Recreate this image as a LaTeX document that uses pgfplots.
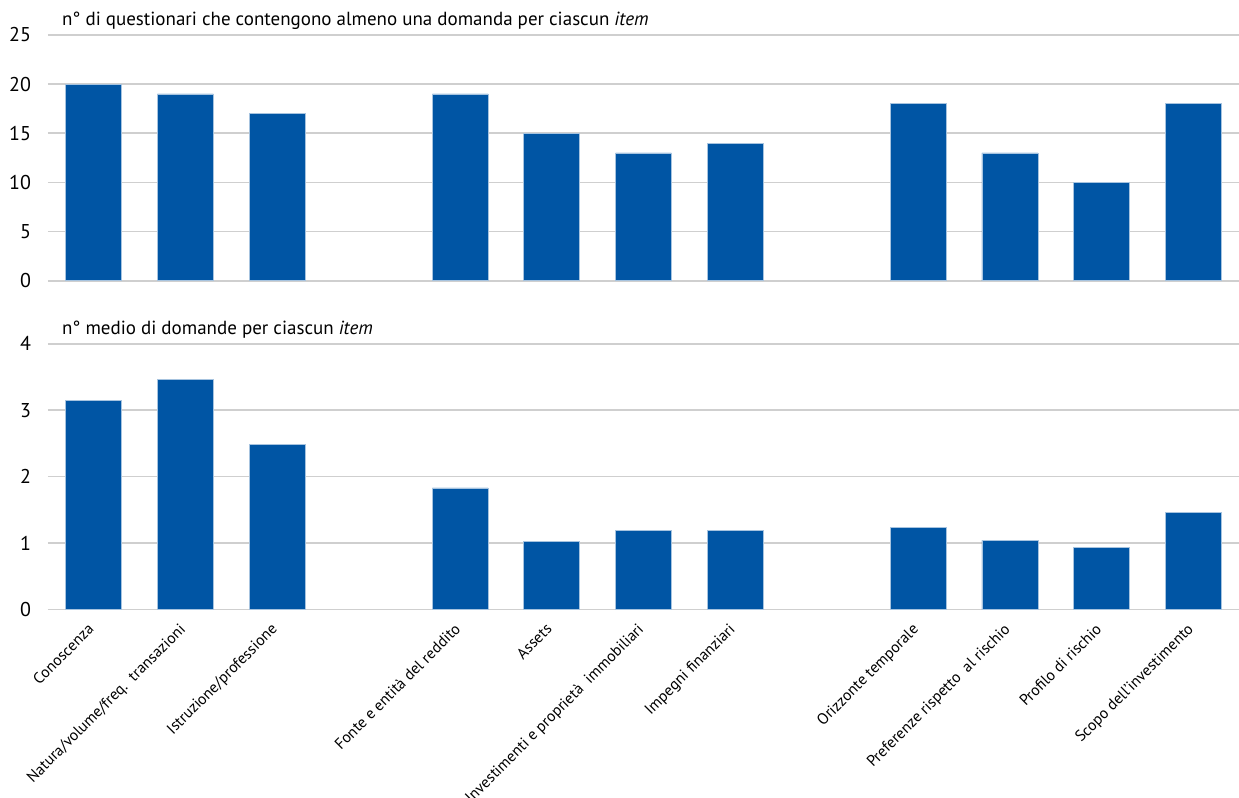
\documentclass[border=0pt]{standalone}
\usepackage{fontspec}
\setmainfont{PT Sans}
\usepackage{pgfplots}
\pgfplotsset{compat=1.18}
\definecolor{barblue}{HTML}{0055A4}
\definecolor{gridgray}{HTML}{CFCFCF}
\pgfplotsset{
  mybars/.style={
    scale only axis,
    width=596pt,
    xmin=-0.5, xmax=12.5,
    ymin=0,
    axis line style={draw=none},
    major tick length=0pt,
    ymajorgrids,
    grid style={gridgray, line width=0.8pt},
    /pgf/number format/assume math mode=true,
    yticklabel style={font=\fontsize{10}{12}\selectfont, xshift=-5pt},
    ybar, bar width=28pt,
    clip=false,
  },
  barsty/.style={fill=barblue, draw=barblue!35!white, line width=0.4pt},
}
\begin{document}
\begin{tikzpicture}
\begin{axis}[mybars, name=top, height=123pt, ymax=25, ytick={0,5,10,15,20,25}, xtick=\empty, at={(0,0)}]
\addplot[barsty] coordinates {(0,20) (1,19) (2,17) (4,19) (5,15) (6,13) (7,14) (9,18) (10,13) (11,10) (12,18)};
\node[anchor=base west, font=\fontsize{9.5}{11}\selectfont] at ([xshift=3.5pt,yshift=4.7pt]rel axis cs:0,1) {n° di questionari che contengono almeno una domanda per ciascun \textit{item}};
\end{axis}
\begin{axis}[mybars, name=bot, height=133pt, ymax=4, ytick={0,1,2,3,4}, at={(0,-164.5pt)},
  xtick={0,1,2,4,5,6,7,9,10,11,12},
  xticklabels={Conoscenza, Natura/volume/freq.\ \ transazioni, Istruzione/professione, Fonte e entità del reddito, Assets, Investimenti e proprietà\ \ immobiliari, Impegni finanziari, Orizzonte temporale, Preferenze rispetto\ \ al rischio, Profilo di rischio, Scopo dell'investimento},
  xticklabel style={yshift=-1.5pt, xshift=-3.5pt, rotate=45, anchor=north east, font=\fontsize{7.8}{9}\selectfont},
]
\addplot[barsty] coordinates {(0,3.15) (1,3.46) (2,2.49) (4,1.83) (5,1.02) (6,1.19) (7,1.19) (9,1.23) (10,1.04) (11,0.94) (12,1.46)};
\node[anchor=base west, font=\fontsize{9.5}{11}\selectfont] at ([xshift=3.5pt,yshift=4.7pt]rel axis cs:0,1) {n° medio di domande per ciascun \textit{item}};
\end{axis}
\pgfresetboundingbox
\path[use as bounding box] ([xshift=-24pt,yshift=17.5pt]top.north west) rectangle ([yshift=-94pt]bot.south east);
\end{tikzpicture}
\end{document}
